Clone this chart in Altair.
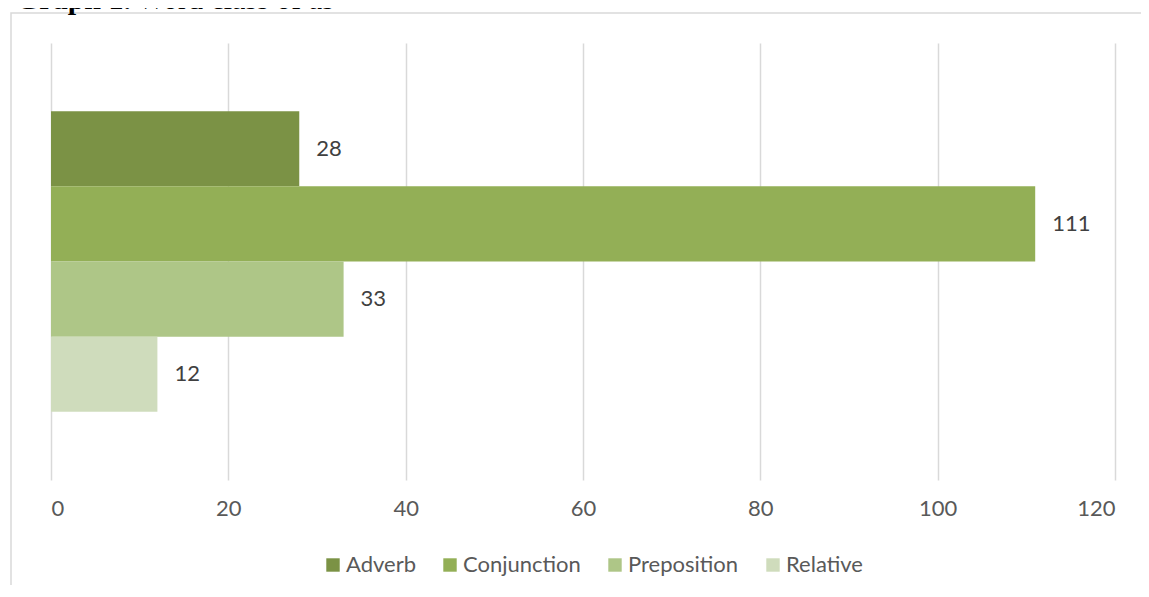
import altair as alt
import pandas as pd

# ---- data ----
series = ["Adverb", "Conjunction", "Preposition", "Relative"]
values = [28, 111, 33, 12]
colors = ["#7B9245", "#93AF56", "#AEC687", "#CFDCBC"]
x_ticks = [0, 20, 40, 60, 80, 100, 120]
title_bold = "Graph 1."
title_rest = "Word class of as"

df = pd.DataFrame({"series": series, "value": values})
one = pd.DataFrame({"k": [0]})

W, H = 1064, 437
FONT = "Lato"
FS = 22

y_enc = alt.Y(
    "series:N",
    sort=series,
    axis=None,
    scale=alt.Scale(domain=series, paddingInner=0, paddingOuter=0.9067),
)
x_enc = alt.X(
    "value:Q",
    scale=alt.Scale(domain=[0, 120], nice=False),
    axis=alt.Axis(
        values=x_ticks,
        title=None,
        domain=False,
        ticks=False,
        grid=True,
        gridColor="#D9D9D9",
        gridWidth=1.5,
        labelFont=FONT,
        labelFontSize=FS,
        labelColor="#595959",
        labelPadding=18,
    ),
)

frame = alt.Chart(one).mark_rect(
    fill="transparent", stroke="#D9D9D9", strokeWidth=1.5
).encode(
    x=alt.value(-40), x2=alt.value(1300), y=alt.value(-30), y2=alt.value(800)
)

bars = alt.Chart(df).mark_bar().encode(
    x=x_enc,
    y=y_enc,
    color=alt.Color(
        "series:N",
        sort=series,
        scale=alt.Scale(domain=series, range=colors),
        legend=alt.Legend(
            orient="none",
            legendX=271,
            legendY=511,
            direction="horizontal",
            title=None,
            symbolType="square",
            symbolSize=180,
            symbolStrokeWidth=0,
            symbolOpacity=1,
            labelFont=FONT,
            labelFontSize=FS,
            labelColor="#595959",
            labelOffset=2,
            columnPadding=23,
        ),
    ),
)

labels = alt.Chart(df).mark_text(
    align="left", baseline="middle", dx=17, font=FONT, fontSize=FS, color="#404040"
).encode(
    x=alt.X("value:Q"),
    y=alt.Y("series:N", sort=series),
    text=alt.Text("value:Q"),
)

t1 = alt.Chart(one).mark_text(
    text=title_bold, align="left", baseline="alphabetic",
    font="Liberation Serif", fontSize=30, fontWeight="bold", color="#000000"
).encode(x=alt.value(-35), y=alt.value(-34))

t2 = alt.Chart(one).mark_text(
    text=title_rest, align="left", baseline="alphabetic",
    font="Liberation Serif", fontSize=30, fontWeight="normal", color="#000000"
).encode(x=alt.value(86), y=alt.value(-34))

chart = alt.layer(frame, bars, labels, t1, t2).properties(
    width=W,
    height=H,
    autosize=alt.AutoSizeParams(type="none"),
    padding={"left": 43, "top": 35, "right": 26, "bottom": 105},
    background="white",
).configure_view(stroke=None)

chart.save("out.html", embed_options={"renderer": "svg", "actions": False})
